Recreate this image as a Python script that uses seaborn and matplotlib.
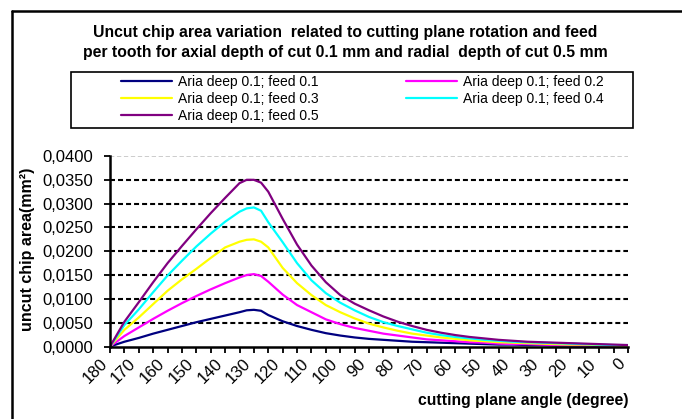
import matplotlib
matplotlib.use("Agg")
import matplotlib.pyplot as plt
from matplotlib.lines import Line2D
from matplotlib.patches import Rectangle
import seaborn as sns
import pandas as pd

# ---------------- data ----------------
angles = [180, 175, 170, 165, 160, 155, 150, 145, 140, 135, 132.5, 130, 127.5, 125,
          120, 115, 110, 105, 100, 95, 90, 85, 80, 75, 70, 65, 60, 55, 50, 45,
          40, 35, 30, 25, 20, 15, 10, 5, 0]

feed_01 = [0, .0010, .0018, .0027, .0035, .0043, .0051, .0058, .0065, .0072, .0076, .0077, .0075, .0066,
           .0053, .0043, .0035, .0028, .0023, .0019, .0016, .0014, .0012, .0010, .0009, .0008, .0007, .0006,
           .0005, .0004, .0004, .0003, .0003, .0002, .0002, .0002, .0001, .0001, .0001]
feed_02 = [0, .0022, .0040, .0058, .0075, .0091, .0106, .0120, .0133, .0145, .0150, .0152, .0148, .0136,
           .0109, .0087, .0072, .0057, .0047, .0039, .0033, .0027, .0023, .0019, .0015, .0013, .0011, .0009,
           .0008, .0006, .0005, .0005, .0004, .0003, .0003, .0002, .0002, .0002, .0001]
feed_03 = [0, .0035, .0061, .0089, .0117, .0141, .0163, .0186, .0208, .0220, .0224, .0225, .0220, .0208,
           .0165, .0133, .0108, .0087, .0072, .0059, .0048, .0040, .0033, .0027, .0023, .0019, .0016, .0013,
           .0011, .0009, .0008, .0007, .0006, .0005, .0004, .0004, .0003, .0002, .0002]
feed_04 = [0, .0045, .0078, .0114, .0149, .0180, .0210, .0237, .0262, .0283, .0290, .0292, .0285, .0261,
           .0219, .0175, .0139, .0112, .0092, .0076, .0062, .0051, .0043, .0036, .0029, .0024, .0020, .0017,
           .0014, .0012, .0010, .0009, .0008, .0007, .0006, .0005, .0004, .0003, .0003]
feed_05 = [0, .0052, .0093, .0135, .0175, .0211, .0246, .0280, .0312, .0343, .0350, .0350, .0344, .0325,
           .0268, .0214, .0170, .0135, .0108, .0090, .0076, .0063, .0052, .0043, .0035, .0029, .0024, .0020,
           .0017, .0014, .0012, .0010, .0009, .0008, .0007, .0006, .0005, .0004, .0003]

series_names = ["Aria deep 0.1; feed 0.1", "Aria deep 0.1; feed 0.2", "Aria deep 0.1; feed 0.3",
                "Aria deep 0.1; feed 0.4", "Aria deep 0.1; feed 0.5"]
series_values = [feed_01, feed_02, feed_03, feed_04, feed_05]
series_colors = ["#000080", "#FF00FF", "#FFFF00", "#00FFFF", "#800080"]

x_ticks = [180, 170, 160, 150, 140, 130, 120, 110, 100, 90, 80, 70, 60, 50, 40, 30, 20, 10, 0]
y_ticks = [0.0, 0.005, 0.010, 0.015, 0.020, 0.025, 0.030, 0.035, 0.040]
y_tick_labels = ["0,0000", "0,0050", "0,0100", "0,0150", "0,0200", "0,0250", "0,0300", "0,0350", "0,0400"]

title_text = ("Uncut chip area variation  related to cutting plane rotation and feed\n"
              "per tooth for axial depth of cut 0.1 mm and radial  depth of cut 0.5 mm")
x_label = "cutting plane angle (degree)"
y_label = "uncut chip area(mm²)"

# ---------------- table ----------------
rows = []
for name, vals in zip(series_names, series_values):
    for a, v in zip(angles, vals):
        rows.append({"angle": a, "area": v, "series": name})
df = pd.DataFrame(rows)

# ---------------- style ----------------
sns.set_theme(style="white")
plt.rcParams["font.family"] = ["Liberation Sans", "DejaVu Sans"]

W, H = 682, 419
fig = plt.figure(figsize=(W / 100, H / 100), dpi=100)
fig.patch.set_facecolor("white")

ax_left, ax_right, ax_top, ax_bottom = 110, 628, 156, 346.5
ax = fig.add_axes([ax_left / W, 1 - ax_bottom / H, (ax_right - ax_left) / W, (ax_bottom - ax_top) / H])
ax.set_facecolor("white")

# grid lines
for yv in y_ticks[1:-1]:
    ax.axhline(yv, color="black", lw=1.5, dashes=(2.4, 1.45), zorder=1)
ax.axhline(y_ticks[-1], color="#c8c8c8", lw=1.3, dashes=(2.4, 1.45), zorder=1)

sns.lineplot(data=df, x="angle", y="area", hue="series", hue_order=series_names,
             palette=series_colors, estimator=None, sort=False, lw=1.6, ax=ax, legend=False, zorder=3)

ax.set_xlim(180, 0)
ax.set_ylim(0, 0.04)
ax.set_xticks(x_ticks)
ax.set_xticks(list(range(175, 0, -10)), minor=True)
ax.set_xticklabels([str(t) for t in x_ticks], rotation=45, ha="right", va="top", fontsize=12)
ax.set_yticks(y_ticks)
ax.set_yticklabels(y_tick_labels, fontsize=12)
ax.tick_params(axis="both", which="both", direction="out", length=4, width=1.3, color="black",
               labelcolor="black", bottom=True, left=True)
ax.tick_params(axis="x", which="major", pad=3)
ax.tick_params(axis="y", which="major", pad=8)

for s in ["top", "right"]:
    ax.spines[s].set_visible(False)
for s in ["left", "bottom"]:
    ax.spines[s].set_visible(True)
    ax.spines[s].set_color("black")
    ax.spines[s].set_linewidth(1.8)
    ax.spines[s].set_zorder(4)

ax.set_xlabel(x_label, fontsize=11.3, fontweight="bold", color="black", loc="right")
ax.xaxis.label.set_va("center")
ax.xaxis.set_label_coords(1.0, (ax_bottom - 400) / (ax_bottom - ax_top))
ax.set_ylabel(y_label, fontsize=11.5, fontweight="bold", color="black")
ax.yaxis.label.set_va("center")
ax.yaxis.set_label_coords((28 - ax_left) / (ax_right - ax_left), (ax_bottom - 249) / (ax_bottom - ax_top))

# title
fig.text(345 / W, 1 - 42.5 / H, title_text, ha="center", va="center", fontsize=11.3, fontweight="bold",
         color="black", linespacing=1.35)

# legend (row-wise order in two columns)
handles = [Line2D([], [], color=c, lw=1.6) for c in series_colors]
order = [0, 2, 4, 1, 3]
leg = fig.legend([handles[i] for i in order], [series_names[i] for i in order],
                 loc="upper left", bbox_to_anchor=(121 / W, 1 - 75 / H), ncol=2,
                 frameon=False, fontsize=10, handlelength=3.67, handletextpad=0.43,
                 columnspacing=6.3, labelspacing=0.22, borderpad=0, borderaxespad=0)
for t in leg.get_texts():
    t.set_color("black")

fig.patches.append(Rectangle((71 / W, 1 - 128 / H), (633 - 71) / W, (128 - 72) / H,
                             transform=fig.transFigure, fill=False, edgecolor="black", lw=1.2))

# outer chart frame (top and left visible)
fig.add_artist(Line2D([12 / W, 12 / W], [0, 1 - 11 / H], transform=fig.transFigure, color="black", lw=1.8))
fig.add_artist(Line2D([12 / W, 1], [1 - 11 / H, 1 - 11 / H], transform=fig.transFigure, color="black", lw=1.8))

fig.savefig("out.png", dpi=100, facecolor="white")
